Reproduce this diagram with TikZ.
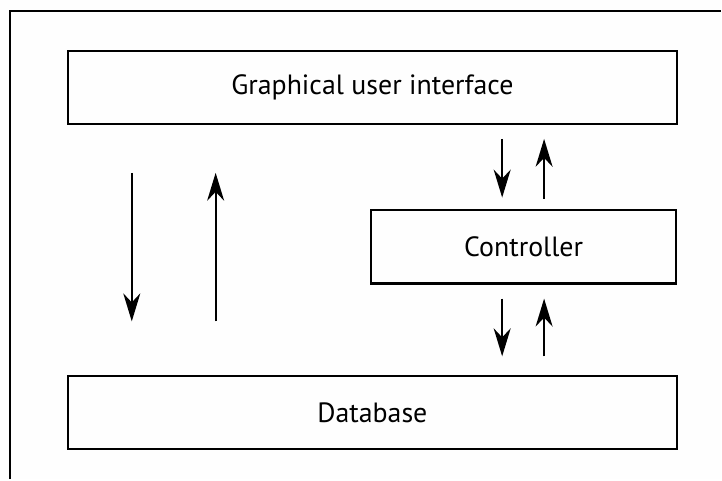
\documentclass[tikz,border=0pt]{standalone}
\usepackage{fontspec}
\setmainfont{PT Sans}
\usetikzlibrary{arrows.meta}
\definecolor{paper}{RGB}{254,254,254}
\begin{document}
\begin{tikzpicture}[x=1bp,y=-1bp,
  block/.style={draw, line width=2.2bp, minimum width=#1, minimum height=73bp,
    inner sep=0pt, font=\fontsize{28}{32}\selectfont},
  flow/.style={line width=2.2bp,
    -{Stealth[length=28bp,width=17bp,inset=9bp]}}]
% page background
\fill[paper] (0,0) rectangle (722,480);
% surrounding frame; only its left and top sides fall inside the page
\draw[line width=2.4bp] (10,480) -- (10,11) -- (722,11);

\node[block=610bp] (gui) at (373,87.5) {Graphical user interface};
\node[block=305bp, minimum height=74bp] (ctl) at (524.5,247) {Controller};
\node[block=610bp] (db) at (373,413.5) {Database};

% direct link between interface and database
\draw[flow, shorten <=48bp, shorten >=54bp] (gui.south -| 132,0) -- (db.north -| 132,0);
\draw[flow, shorten <=54bp, shorten >=48bp] (db.north -| 216,0) -- (gui.south -| 216,0);

% interface <-> controller
\draw[flow, shorten <=14bp, shorten >=11bp] (gui.south -| 503,0) -- (ctl.north -| 503,0);
\draw[flow, shorten <=10bp, shorten >=14bp] (ctl.north -| 545,0) -- (gui.south -| 545,0);

% controller <-> database
\draw[flow, shorten <=14bp, shorten >=19bp] (ctl.south -| 503,0) -- (db.north -| 503,0);
\draw[flow, shorten <=19bp, shorten >=14bp] (db.north -| 545,0) -- (ctl.south -| 545,0);
\end{tikzpicture}
\end{document}
